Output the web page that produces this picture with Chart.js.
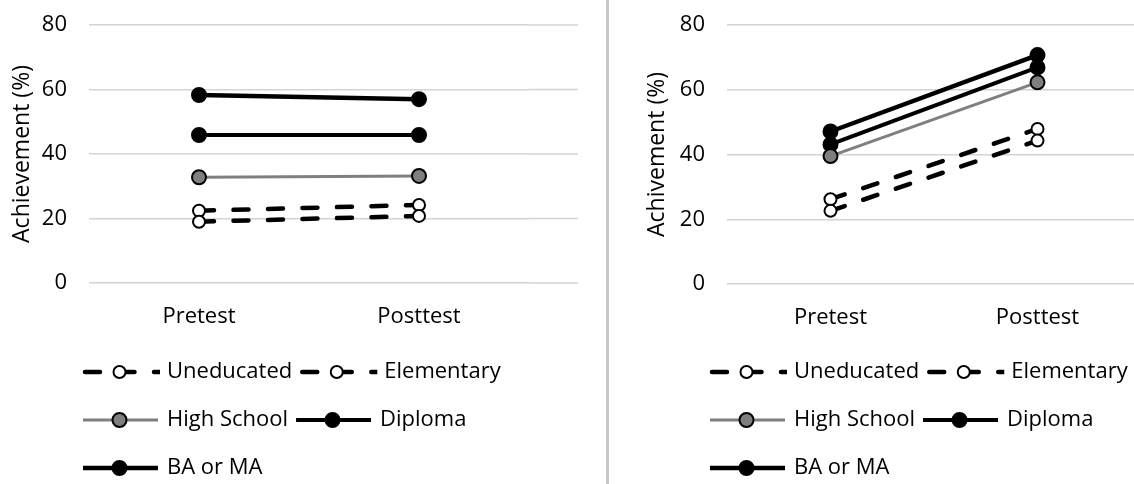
<!DOCTYPE html>
<html><head><meta charset="utf-8">
<script src="https://cdn.jsdelivr.net/npm/chart.js@4.4.1/dist/chart.umd.min.js"></script>
<style>
html,body{margin:0;padding:0;background:#fff;overflow:hidden;width:1134px;height:484px;position:relative;}
#w1{position:absolute;left:0;top:0;width:600px;height:484px;}
#w2{position:absolute;left:612px;top:0;width:560px;height:484px;}
#sep{position:absolute;left:606px;top:0;width:3px;height:484px;background:#c8c8c8;}
</style></head><body>
<div id="w1"><canvas id="c1" width="600" height="484"></canvas></div>
<div id="sep"></div>
<div id="w2"><canvas id="c2" width="560" height="484"></canvas></div>
<script>
// ---- data ----
const categories = ['Pretest', 'Posttest'];
const seriesNames = ['Uneducated', 'Elementary', 'High School', 'Diploma', 'BA or MA'];
const yTicks = [0, 20, 40, 60, 80];

const leftUneducated = [19.0, 20.8];
const leftElementary = [22.4, 24.2];
const leftHighSchool = [32.8, 33.2];
const leftDiploma    = [45.9, 45.9];
const leftBAorMA     = [58.3, 57.0];

const rightUneducated = [22.6, 44.3];
const rightElementary = [26.2, 47.9];
const rightHighSchool = [39.5, 62.3];
const rightDiploma    = [43.1, 66.9];
const rightBAorMA     = [47.1, 70.7];

// ---- styles ----
const FONT = 'Open Sans';
const GRID = '#d4d4d4';
const styles = [
  {borderColor:'#000', borderWidth:4.5, borderDash:[15,19.5], borderCapStyle:'round', pointBackgroundColor:'#fff', pointBorderColor:'#000', pointRadius:6, pointBorderWidth:2, order:0},
  {borderColor:'#000', borderWidth:4.5, borderDash:[15,19.5], borderCapStyle:'round', pointBackgroundColor:'#fff', pointBorderColor:'#000', pointRadius:6, pointBorderWidth:2, order:0},
  {borderColor:'#7f7f7f', borderWidth:3, pointBackgroundColor:'#7f7f7f', pointBorderColor:'#000', pointRadius:7, pointBorderWidth:2, order:0},
  {borderColor:'#000', borderWidth:4, pointBackgroundColor:'#000', pointBorderColor:'#000', pointRadius:7, pointBorderWidth:2, order:1},
  {borderColor:'#000', borderWidth:4.5, pointBackgroundColor:'#000', pointBorderColor:'#000', pointRadius:7, pointBorderWidth:2, order:0}
];

function drawSymbol(ctx, ds, x, cy) {
  ctx.save();
  ctx.beginPath(); ctx.rect(x - 1, cy - 20, 78, 40); ctx.clip();
  ctx.strokeStyle = ds.borderColor;
  ctx.lineWidth = ds.borderWidth;
  if (ds.borderDash) {
    ctx.setLineDash(ds.borderDash); ctx.lineCap = 'round';
    ctx.beginPath(); ctx.moveTo(x + 2, cy); ctx.lineTo(x + 80, cy); ctx.stroke();
  } else {
    ctx.lineCap = 'butt';
    ctx.beginPath(); ctx.moveTo(x, cy); ctx.lineTo(x + 75, cy); ctx.stroke();
  }
  ctx.setLineDash([]);
  ctx.beginPath(); ctx.arc(x + 36.5, cy, ds.pointRadius, 0, Math.PI * 2);
  ctx.fillStyle = ds.pointBackgroundColor; ctx.fill();
  ctx.lineWidth = ds.pointBorderWidth; ctx.strokeStyle = ds.pointBorderColor; ctx.stroke();
  ctx.restore();
}

const tweaks = {
  id: 'tweaks',
  beforeLayout(chart, args, o) {
    const lg = chart.legend;
    if (lg && !lg._fixed) {
      const f = lg.fit;
      lg.fit = function () { f.call(this); this.height = o.legendHeight; };
      lg._fixed = true;
    }
  },
  afterLayout(chart, args, o) {
    const lg = chart.legend;
    lg.left = o.legendLeft; lg.width = o.legendWidth; lg.right = o.legendLeft + o.legendWidth;
    lg.top = o.legendTop; lg.bottom = o.legendTop + lg.height;
  },
  beforeDatasetsDraw(chart, args, o) {
    if (!o.extendGrid) return;
    const y = chart.scales.y, ctx = chart.ctx, a = chart.chartArea;
    ctx.save(); ctx.strokeStyle = GRID; ctx.lineWidth = 1.5;
    y.ticks.forEach(t => {
      const py = y.getPixelForValue(t.value);
      ctx.beginPath(); ctx.moveTo(a.right, py); ctx.lineTo(a.right + o.extendGrid, py); ctx.stroke();
    });
    ctx.restore();
  },
  afterDraw(chart) {
    const lg = chart.legend;
    (lg.legendHitBoxes || []).forEach((hb, i) => {
      drawSymbol(chart.ctx, chart.data.datasets[i], hb.left, hb.top + hb.height / 2);
    });
  }
};

function makeChart(id, values, o) {
  const datasets = seriesNames.map((name, i) => Object.assign({
    label: name, data: values[i], fill: false, tension: 0
  }, styles[i]));
  return new Chart(document.getElementById(id), {
    type: 'line',
    data: { labels: categories, datasets },
    plugins: [tweaks],
    options: {
      responsive: false, animation: false, events: [],
      layout: { padding: { top: 25, right: o.padRight, bottom: 0, left: 0 } },
      scales: {
        x: {
          type: 'category', offset: true,
          grid: { display: false, drawTicks: false }, border: { display: false },
          ticks: { padding: 21, color: '#000', font: { family: FONT, size: 22 } },
          afterFit(s) { s.height = 44; }
        },
        y: {
          min: 0, max: 80,
          afterBuildTicks(s) { s.ticks = yTicks.map(v => ({ value: v })); },
          grid: { color: GRID, lineWidth: 1.5, drawTicks: false }, border: { display: false },
          ticks: { padding: 22, color: '#000', font: { family: FONT, size: 22 } },
          title: { display: true, text: o.yTitle, color: '#000', font: { family: FONT, size: 23 }, padding: { top: o.titlePad, bottom: 0 } },
          afterFit(s) { s.width = o.axisWidth; s.paddingTop = 0; s.paddingBottom = 0; }
        }
      },
      plugins: {
        tooltip: { enabled: false },
        legend: {
          position: 'bottom', align: 'start',
          labels: {
            boxWidth: 73, boxHeight: 40, padding: 8, color: '#000',
            font: { family: FONT, size: 22 },
            generateLabels: (chart) => chart.data.datasets.map((ds, i) => ({
              text: ds.label, fillStyle: 'rgba(0,0,0,0)', strokeStyle: 'rgba(0,0,0,0)',
              lineWidth: 0, hidden: false, datasetIndex: i, fontColor: '#000'
            }))
          }
        },
        tweaks: {
          legendHeight: o.legendHeight, legendLeft: o.legendLeft, legendWidth: 512,
          legendTop: 344, extendGrid: o.extendGrid
        }
      }
    }
  });
}

makeChart('c1', [leftUneducated, leftElementary, leftHighSchool, leftDiploma, leftBAorMA], {
  yTitle: 'Achievement (%)', padRight: 71, axisWidth: 89, titlePad: 9,
  legendHeight: 157, legendLeft: 75, extendGrid: 49
});
makeChart('c2', [rightUneducated, rightElementary, rightHighSchool, rightDiploma, rightBAorMA], {
  yTitle: 'Achivement (%)', padRight: 31, axisWidth: 115, titlePad: 32,
  legendHeight: 156, legendLeft: 90, extendGrid: 0
});
</script>
</body></html>
